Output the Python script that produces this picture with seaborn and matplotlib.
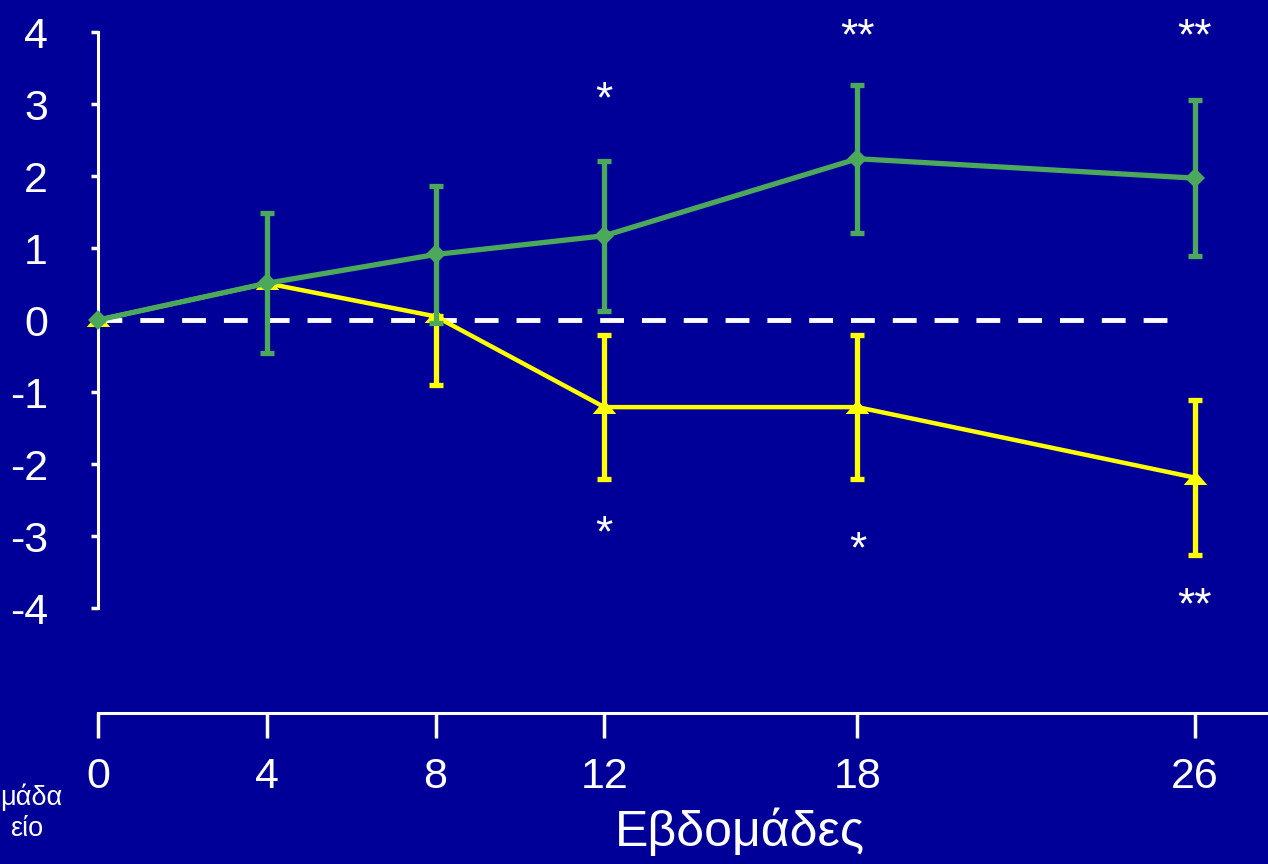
import matplotlib
matplotlib.use("Agg")
import matplotlib.pyplot as plt
import seaborn as sns
import numpy as np

# ---- data ----
weeks = [0, 4, 8, 12, 18, 26]
xtick_labels = ["0", "4", "8", "12", "18", "26"]
green_mean = [0.0, 0.51, 0.91, 1.17, 2.24, 1.97]
green_err = [0.0, 0.97, 0.95, 1.04, 1.03, 1.08]
yellow_mean = [0.0, 0.51, 0.05, -1.21, -1.21, -2.19]
yellow_err_low = [0.0, 0.0, 0.95, 1.0, 1.0, 1.08]
yellow_err_high = [0.0, 0.0, 0.0, 1.0, 1.0, 1.08]
yticks = [-4, -3, -2, -1, 0, 1, 2, 3, 4]
star_x = [12, 18, 26, 12, 18, 26]
star_y = [3.05, 3.92, 3.92, -2.99, -3.2, -3.98]
star_text = ["*", "**", "**", "*", "*", "**"]
xlabel = "Εβδομάδες"
legend_lines = ["μάδα", "είο"]

BG = "#000099"
GREEN = "#4CA85A"
YELLOW = "#FFFF00"
WHITE = "#FFFFFF"

sns.set_theme(style="white")
plt.rcParams["font.family"] = ["Liberation Sans", "DejaVu Sans"]

W, H = 1268, 864
fig = plt.figure(figsize=(W / 100, H / 100), dpi=100, facecolor=BG)
ax = fig.add_axes([98 / W, (H - 713) / H, (W - 98) / W, 713 / H])
ax.set_facecolor(BG)

px_per_unit_y = 72.0
ax.set_ylim(-(713 - 320) / px_per_unit_y, 320 / px_per_unit_y)
px_per_week = (1195 - 98) / 26
ax.set_xlim(0, (W - 98) / px_per_week)

# zero reference line
ax.plot([0, (1178 - 98) / px_per_week], [0, 0], color=WHITE, lw=3.5,
        dashes=(4.9, 3.7), zorder=1, dash_capstyle="butt")

tri = [(-1, -0.55), (1, -0.55), (0, 0.6)]

# yellow series
ax.errorbar(weeks, yellow_mean, yerr=[yellow_err_low, yellow_err_high], fmt="none",
            ecolor=YELLOW, elinewidth=3.8, capsize=5, capthick=3.8, zorder=2,
            clip_on=False)
sns.lineplot(x=weeks, y=yellow_mean, ax=ax, color=YELLOW, lw=3.2,
             marker=tri, markersize=17, markeredgewidth=0, markerfacecolor=YELLOW,
             zorder=3, clip_on=False)

# green series
ax.errorbar(weeks, green_mean, yerr=green_err, fmt="none", ecolor=GREEN,
            elinewidth=3.8, capsize=5, capthick=3.8, zorder=4, clip_on=False)
sns.lineplot(x=weeks, y=green_mean, ax=ax, color=GREEN, lw=3.8,
             marker="D", markersize=10, markeredgewidth=0, markerfacecolor=GREEN,
             zorder=5, clip_on=False)

# significance stars
for sx, sy, st in zip(star_x, star_y, star_text):
    ax.text(sx, sy, st, color=WHITE, fontsize=32, ha="center", va="center")

# spines
for s in ["top", "right"]:
    ax.spines[s].set_visible(False)
ax.spines["left"].set_color(WHITE)
ax.spines["left"].set_linewidth(2.2)
ax.spines["left"].set_bounds(-4, 4)
ax.spines["bottom"].set_color(WHITE)
ax.spines["bottom"].set_linewidth(2.2)

ax.set_yticks(yticks)
ax.set_yticklabels([str(v) for v in yticks])
ax.set_xticks(weeks)
ax.set_xticklabels(xtick_labels)
ax.tick_params(axis="y", colors=WHITE, labelcolor=WHITE, direction="out",
               length=5, width=2.5, labelsize=31, pad=31, left=True)
ax.tick_params(axis="x", colors=WHITE, labelcolor=WHITE, direction="out",
               length=18, width=2.5, labelsize=31, pad=14, bottom=True)

ax.set_xlabel(xlabel, color=WHITE, fontsize=36)
ax.xaxis.set_label_coords((740 - 98) / (W - 98), -(832 - 713) / 713)
ax.xaxis.label.set_va("center")
ax.set_ylabel("")

# partially visible legend text at the bottom left
fig.text(62 / W, 1 - 797 / H, legend_lines[0], color=WHITE, fontsize=19.5,
         ha="right", va="center")
fig.text(43 / W, 1 - 829 / H, legend_lines[1], color=WHITE, fontsize=19.5,
         ha="right", va="center")

fig.savefig("out.png", dpi=100, facecolor=BG)
